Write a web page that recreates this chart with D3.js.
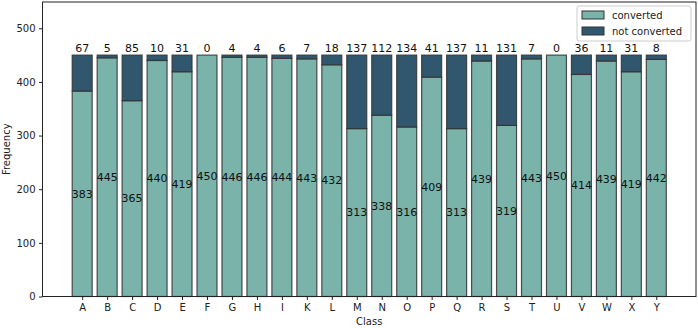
<!DOCTYPE html>
<html>
<head>
<meta charset="utf-8">
<script src="https://cdn.jsdelivr.net/npm/d3@7"></script>
<style>
  body { margin: 0; background: #fff; }
  text { font-family: "DejaVu Sans", sans-serif; }
</style>
</head>
<body>
<div id="chart-area"></div>
<script>
// data
var classes = ["A","B","C","D","E","F","G","H","I","K","L","M","N","O","P","Q","R","S","T","U","V","W","X","Y"];
var converted = [383,445,365,440,419,450,446,446,444,443,432,313,338,316,409,313,439,319,443,450,414,439,419,442];
var notConverted = [67,5,85,10,31,0,4,4,6,7,18,137,112,134,41,137,11,131,7,0,36,11,31,8];
var yTicks = [0,100,200,300,400,500];
var seriesNames = ["converted","not converted"];
var colors = ["#79b3aa","#31576e"];

var W = 698, H = 328;
// plot box (note: "top" is a reserved window global, so use other names)
var plotL = 42.5, plotR = 696, plotT = 2, plotB = 296.5;

var svg = d3.select("#chart-area")
    .append("svg")
    .attr("width", W)
    .attr("height", H);

// scales
var xPos = d3.scaleLinear()
    .domain([-1.59, classes.length - 1 + 1.59])
    .range([plotL, plotR]);
var bw = xPos(0.8) - xPos(0);

var y = d3.scaleLinear()
    .domain([0, 549])
    .range([plotB, plotT]);

var rows = classes.map(function (c, i) {
    return { name: c, i: i, conv: converted[i], not: notConverted[i] };
});

// converted bars
svg.selectAll("rect.conv")
    .data(rows)
    .enter()
    .append("rect")
    .attr("class", "conv")
    .attr("x", function (d) { return xPos(d.i) - bw / 2; })
    .attr("y", function (d) { return y(d.conv); })
    .attr("width", bw)
    .attr("height", function (d) { return y(0) - y(d.conv); })
    .attr("fill", colors[0])
    .attr("stroke", "#333")
    .attr("stroke-opacity", 0.85)
    .attr("stroke-width", 1.2);

// not converted bars
svg.selectAll("rect.not")
    .data(rows)
    .enter()
    .append("rect")
    .attr("class", "not")
    .attr("x", function (d) { return xPos(d.i) - bw / 2; })
    .attr("y", function (d) { return y(d.conv + d.not); })
    .attr("width", bw)
    .attr("height", function (d) { return y(d.conv) - y(d.conv + d.not); })
    .attr("fill", colors[1])
    .attr("stroke", "#333")
    .attr("stroke-opacity", 0.85)
    .attr("stroke-width", 1.2);

// labels in the middle of converted
svg.selectAll("text.convlab")
    .data(rows)
    .enter()
    .append("text")
    .attr("x", function (d) { return xPos(d.i); })
    .attr("y", function (d) { return y(d.conv / 2); })
    .attr("dy", "0.35em")
    .attr("text-anchor", "middle")
    .attr("font-size", "11px")
    .attr("fill", "#111")
    .text(function (d) { return d.conv; });

// labels on top
svg.selectAll("text.notlab")
    .data(rows)
    .enter()
    .append("text")
    .attr("x", function (d) { return xPos(d.i); })
    .attr("y", function (d) { return y(d.conv + d.not) - 3; })
    .attr("text-anchor", "middle")
    .attr("font-size", "11px")
    .attr("fill", "#111")
    .text(function (d) { return d.not; });

// axes
var xAxis = d3.axisBottom(xPos)
    .tickValues(d3.range(classes.length))
    .tickFormat(function (i) { return classes[i]; })
    .tickSize(3.5)
    .tickPadding(3.5);
var gx = svg.append("g")
    .attr("transform", "translate(0," + plotB + ")")
    .call(xAxis);

var yAxis = d3.axisLeft(y)
    .tickValues(yTicks)
    .tickSize(3.5)
    .tickPadding(3.5);
var gy = svg.append("g")
    .attr("transform", "translate(" + plotL + ",0)")
    .call(yAxis);

[gx, gy].forEach(function (g) {
    g.select(".domain").remove();
    g.selectAll("text").attr("font-size", "10px").attr("fill", "#222").attr("font-family", "DejaVu Sans, sans-serif");
    g.selectAll("line").attr("stroke", "#222");
});

// frame
svg.append("rect")
    .attr("x", plotL)
    .attr("y", plotT)
    .attr("width", plotR - plotL)
    .attr("height", plotB - plotT)
    .attr("fill", "none")
    .attr("stroke", "#222")
    .attr("stroke-width", 1);

// axis titles
svg.append("text")
    .attr("x", (plotL + plotR) / 2)
    .attr("y", 325)
    .attr("text-anchor", "middle")
    .attr("font-size", "10px")
    .attr("fill", "#222")
    .text("Class");

svg.append("text")
    .attr("transform", "translate(10," + (plotT + plotB) / 2 + ") rotate(-90)")
    .attr("text-anchor", "middle")
    .attr("font-size", "10px")
    .attr("fill", "#222")
    .text("Frequency");

// legend
var lg = svg.append("g").attr("transform", "translate(577,6)");
lg.append("rect")
    .attr("width", 114)
    .attr("height", 35)
    .attr("rx", 2)
    .attr("fill", "#fff")
    .attr("fill-opacity", 0.8)
    .attr("stroke", "#ccc");
seriesNames.forEach(function (s, i) {
    lg.append("rect")
        .attr("x", 5)
        .attr("y", 5 + i * 16)
        .attr("width", 22)
        .attr("height", 8)
        .attr("fill", colors[i])
        .attr("stroke", "#333")
        .attr("stroke-width", 1);
    lg.append("text")
        .attr("x", 35)
        .attr("y", 9 + i * 16)
        .attr("dy", "0.35em")
        .attr("font-size", "10px")
        .attr("fill", "#222")
        .text(s);
});
</script>
</body>
</html>
